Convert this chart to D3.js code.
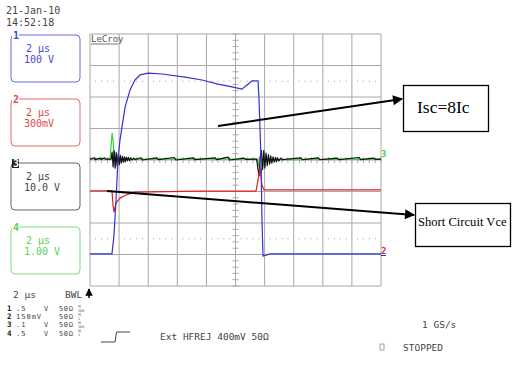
<!DOCTYPE html>
<html>
<head>
<meta charset="utf-8">
<script src="https://cdn.jsdelivr.net/npm/d3@7"></script>
<style>
  body { margin: 0; background: #fff; }
  svg { display: block; }
  .mono { font-family: "DejaVu Sans Mono", monospace; }
</style>
</head>
<body>
<div id="container"></div>
<script>
/* scope settings */
var dateText = "21-Jan-10",
    timeText = "14:52:18";
var channelIds = ["1", "2", "3", "4"],
    channelTimebase = ["2 μs", "2 μs", "2 μs", "2 μs"],
    channelScale = ["100 V", "300mV", "10.0 V", "1.00 V"];
var rowIds = ["1", "2", "3", "4"],
    rowScale = [".5", "150mV", ".1", ".5"],
    rowUnit = ["V", "", "V", "V"],
    rowImpedance = ["50Ω", "50Ω", "50Ω", "50Ω"],
    rowProbe = ["200", "1", "100", "1"];
var triggerText = "Ext HFREJ 400mV 50Ω",
    rateText = "1 GS/s",
    stateText = "STOPPED";

/* time in µs (10 div x 2 µs), value in divisions */
var timeTicks = [0, 2, 4, 6, 8, 10, 12, 14, 16, 18, 20],
    divTicks = [-4, -3, -2, -1, 0, 1, 2, 3, 4];

/* ch1 (blue) collector current */
var ch1 = [[0,-2.98],[1.51,-2.98],[1.65,-2.38],[1.79,-1.27],[1.92,0],[2.06,0.63],[2.2,1.05],
  [2.41,1.68],[2.75,2.22],[3.09,2.54],[3.44,2.7],[3.99,2.76],[4.95,2.73],[6.53,2.63],
  [7.7,2.54],[8.8,2.41],[9.76,2.32],[10.45,2.25],[10.79,2.38],[11.13,2.51],[11.55,2.51],
  [11.61,2.0],[11.75,0.06],[11.82,-1.9],[11.89,-3.05],[12.1,-3.02],[12.37,-2.98],[20,-2.98]];
/* ch2 (red) Vce */
var ch2 = [[0,-0.98],[1.51,-0.98],[1.58,-1.43],[1.65,-1.65],[1.79,-1.37],[2.06,-1.21],
  [2.47,-1.11],[3.09,-1.02],[7.5,-0.99],[11.41,-0.99],[11.55,-0.63],[11.68,-0.25],
  [11.82,-0.79],[11.96,-0.95],[20,-0.95]];
/* ch4 (green) gate */
var ch4 = [[0,0.03],[1.38,0.03],[1.45,0.47],[1.52,0.85],[1.58,0.63],[1.65,0.16],[1.79,-0.06],
  [1.92,0.03],[11.48,0.03],[11.62,-0.19],[11.75,-0.41],[11.89,-0.19],[12.03,0],[20,0.03]];
/* ch3 (black) with ringing at both edges */
var ch3 = [[0,0.03],[0.3,0.07],[0.35,0.01],[0.7,0.06],[0.75,0.02],[1.0,0.07],[1.05,0.03],
  [1.45,0.03],[1.52,0.25],[1.59,-0.22],[1.66,0.3],[1.73,-0.26],[1.8,0.24],[1.87,-0.2],
  [1.94,0.19],[2.01,-0.15],[2.08,0.15],[2.15,-0.1],[2.22,0.12],[2.29,-0.07],[2.36,0.1],
  [2.43,-0.05],[2.5,0.09],[2.57,-0.03],[2.64,0.08],[2.71,-0.02],[2.8,0.07],[2.9,0],
  [3.0,0.06],[3.1,0.01],[3.5,0.07],[3.6,0.0],[4.6,0.07],[4.7,0.01],[5.8,0.08],[5.9,0.0],
  [7.1,0.07],[7.2,0.01],[8.6,0.07],[8.7,0.01],[9.5,0.09],[9.6,0.0],[10.6,0.06],[10.7,0.02],
  [11.45,0.03],[11.55,-0.3],[11.62,-0.5],[11.7,0.1],[11.78,0.3],[11.86,-0.3],[11.94,0.3],
  [12.02,-0.25],[12.1,0.22],[12.18,-0.18],[12.26,0.17],[12.34,-0.13],[12.42,0.13],
  [12.5,-0.1],[12.58,0.1],[12.66,-0.07],[12.74,0.08],[12.82,-0.05],[12.9,0.07],[12.98,-0.03],
  [13.1,0.06],[13.2,0.01],[14.5,0.07],[14.6,0.01],[15.7,0.07],[15.8,0.01],[17.0,0.06],
  [17.1,0.01],[18.5,0.08],[18.6,0.01],[19.5,0.06],[19.6,0.02],[20,0.03]];

var annIsc = "Isc=8Ic",
    annVce = "Short Circuit Vce";

/* setup */
var W = 516, H = 372;
var svg = d3.select("#container").append("svg")
  .attr("width", W).attr("height", H);

var x = d3.scaleLinear().domain([0, 20]).range([90, 381]);
var y = d3.scaleLinear().domain([-4, 4]).range([286, 34]);

svg.append("defs").append("marker")
  .attr("id", "head").attr("viewBox", "0 0 10 10")
  .attr("refX", 9).attr("refY", 5)
  .attr("markerWidth", 6).attr("markerHeight", 5)
  .attr("markerUnits", "strokeWidth")
  .attr("orient", "auto")
  .append("path").attr("d", "M0,0L10,5L0,10Z").attr("fill", "#000");

/* header */
var mono = function(sel, size, col) {
  return sel.attr("class", "mono").style("font-size", size + "px").attr("fill", col);
};
mono(svg.append("text").attr("x", 6).attr("y", 14).text(dateText), 10, "#444");
mono(svg.append("text").attr("x", 6).attr("y", 26).text(timeText), 10, "#444");

/* channel boxes on the left */
var boxCol = ["#6b6be0", "#e06a6a", "#666", "#7ddc7d"],
    txtCol = ["#4646d8", "#e04848", "#444", "#55d455"];
var boxes = svg.selectAll(".chbox").data(channelIds).enter().append("g")
  .attr("class", "chbox")
  .attr("transform", function(d, i) { return "translate(11," + (35 + i * 64) + ")"; });
boxes.append("rect").attr("width", 69).attr("height", 47).attr("rx", 4)
  .attr("fill", "none").attr("stroke", function(d, i) { return boxCol[i]; }).attr("stroke-width", 1);
boxes.append("text").attr("x", 15).attr("y", 17)
  .text(function(d, i) { return channelTimebase[i]; })
  .attr("class", "mono").style("font-size", "10px")
  .attr("fill", function(d, i) { return txtCol[i]; });
boxes.append("text").attr("x", 13).attr("y", 28)
  .text(function(d, i) { return channelScale[i]; })
  .attr("class", "mono").style("font-size", "10px")
  .attr("fill", function(d, i) { return txtCol[i]; });
boxes.append("rect").attr("x", 1).attr("y", -4).attr("width", 7).attr("height", 9)
  .attr("fill", function(d, i) { return i == 2 ? "#222" : "#fff"; });
boxes.append("text").attr("x", 2).attr("y", 4)
  .text(function(d) { return d; })
  .attr("class", "mono").style("font-size", "10px").style("font-weight", "bold")
  .attr("fill", function(d, i) { return i == 2 ? "#fff" : txtCol[i]; });

/* grid */
var g = svg.append("g");
g.selectAll(".vl").data(timeTicks).enter().append("line")
  .attr("x1", x).attr("x2", x).attr("y1", y(-4)).attr("y2", y(4))
  .attr("stroke", "#a8a8a8").attr("stroke-width", 1);
g.selectAll(".hl").data(divTicks).enter().append("line")
  .attr("y1", y).attr("y2", y).attr("x1", x(0)).attr("x2", x(20))
  .attr("stroke", "#a8a8a8").attr("stroke-width", 1);

/* minor ticks on centre cross */
var minorDiv = d3.range(-4, 4.01, 0.2), minorT = d3.range(0, 20.01, 0.4);
g.selectAll(".mt").data(minorDiv).enter().append("line")
  .attr("x1", x(10) - 3).attr("x2", x(10) + 3).attr("y1", y).attr("y2", y)
  .attr("stroke", "#a8a8a8");
g.selectAll(".mh").data(minorT).enter().append("line")
  .attr("y1", y(0) - 3).attr("y2", y(0) + 3).attr("x1", x).attr("x2", x)
  .attr("stroke", "#a8a8a8");

/* dotted level marks at +/-2.5 div */
[2.5, -2.5].forEach(function(lv) {
  timeTicks.slice(0, -1).forEach(function(t) {
    g.append("line").attr("x1", x(t) + 5).attr("x2", x(t + 2) - 4)
      .attr("y1", y(lv)).attr("y2", y(lv))
      .attr("stroke", "#9a9a9a").attr("stroke-dasharray", "1,5");
  });
});

mono(svg.append("text").attr("x", 91).attr("y", 42).text("LeCroy"), 9, "#555");
svg.append("line").attr("x1", 91).attr("x2", 118).attr("y1", 44).attr("y2", 44)
  .attr("stroke", "#777");

/* traces */
var line = d3.line().x(function(d) { return x(d[0]); }).y(function(d) { return y(d[1]); });
var traces = [[ch4, "#3ccf3c"], [ch3, "#111"], [ch2, "#e41e1e"], [ch1, "#3232d2"]];
traces.forEach(function(tr) {
  svg.append("path").datum(tr[0]).attr("d", line)
    .attr("fill", "none").attr("stroke", tr[1]).attr("stroke-width", 1.2)
    .attr("stroke-linejoin", "round");
});

/* right-edge channel markers */
mono(svg.append("text").attr("x", 381).attr("y", y(0) - 3).text("3"), 9, "#3ccf3c")
  .style("font-weight", "bold");
mono(svg.append("text").attr("x", 381).attr("y", y(-3) - 1).text("2"), 9, "#d42c4c")
  .style("font-weight", "bold");
svg.append("line").attr("x1", 381).attr("x2", 386).attr("y1", y(-3) + 1).attr("y2", y(-3) + 1)
  .attr("stroke", "#3232d2");

/* trigger arrow at the left edge */
svg.append("line").attr("x1", 89).attr("x2", 89).attr("y1", 298).attr("y2", 289)
  .attr("stroke", "#000").attr("stroke-width", 1.5).attr("marker-end", "url(#head)");

/* bottom readout */
mono(svg.append("text").attr("x", 13).attr("y", 298).text("2 μs"), 9.5, "#444");
mono(svg.append("text").attr("x", 65).attr("y", 298).text("BWL"), 9.5, "#444");
var rows = svg.selectAll(".row").data(rowIds).enter().append("g")
  .attr("transform", function(d, i) { return "translate(0," + (311 + i * 8.2) + ")"; });
rows.append("text").attr("x", 7).text(function(d) { return d; })
  .attr("class", "mono").style("font-size", "7.5px").style("font-weight", "bold").attr("fill", "#222");
rows.append("text").attr("x", 16).text(function(d, i) { return rowScale[i]; })
  .attr("class", "mono").style("font-size", "7px").style("letter-spacing", "1px").attr("fill", "#444");
rows.append("text").attr("x", 44).text(function(d, i) { return rowUnit[i]; })
  .attr("class", "mono").style("font-size", "7px").attr("fill", "#444");
rows.append("text").attr("x", 59).text(function(d, i) { return rowImpedance[i]; })
  .attr("class", "mono").style("font-size", "7px").style("letter-spacing", "0.6px").attr("fill", "#444");
/* tiny probe attenuation mark: an X drawn as a path, the ratio below */
rows.append("path").attr("d", "M78,-6L81,-3.5M81,-6L78,-3.5")
  .attr("stroke", "#666").attr("stroke-width", 0.6);
rows.append("text").attr("x", 78).attr("y", 0.5).text(function(d, i) { return rowProbe[i]; })
  .attr("class", "mono").style("font-size", "3.5px").attr("fill", "#555");

svg.append("path").attr("d", "M101,342H115L116.5,332H130")
  .attr("fill", "none").attr("stroke", "#444").attr("stroke-width", 1);
mono(svg.append("text").attr("x", 160).attr("y", 340).text(triggerText), 9.5, "#444");
mono(svg.append("text").attr("x", 422).attr("y", 328).text(rateText), 9.5, "#444");
svg.append("rect").attr("x", 380).attr("y", 344).attr("width", 4).attr("height", 6)
  .attr("fill", "none").attr("stroke", "#888").attr("stroke-width", 0.8);
mono(svg.append("text").attr("x", 403).attr("y", 351).text(stateText), 9.5, "#444");

/* annotations */
svg.append("line").attr("x1", 218).attr("y1", 126).attr("x2", 402).attr("y2", 99)
  .attr("stroke", "#000").attr("stroke-width", 2).attr("marker-end", "url(#head)");
svg.append("line").attr("x1", 107).attr("y1", 191).attr("x2", 414).attr("y2", 215)
  .attr("stroke", "#000").attr("stroke-width", 2).attr("marker-end", "url(#head)");

svg.append("rect").attr("x", 403.5).attr("y", 85.5).attr("width", 85).attr("height", 46)
  .attr("fill", "#fff").attr("stroke", "#000").attr("stroke-width", 1.3);
svg.append("text").attr("x", 417).attr("y", 113).text(annIsc)
  .style("font-family", "'Liberation Serif', serif").style("font-size", "17.5px").attr("fill", "#000");
svg.append("rect").attr("x", 415.5).attr("y", 203.5).attr("width", 95).attr("height", 43)
  .attr("fill", "#fff").attr("stroke", "#000").attr("stroke-width", 1.3);
svg.append("text").attr("x", 418).attr("y", 226).text(annVce)
  .style("font-family", "'Liberation Serif', serif").style("font-size", "12.6px").attr("fill", "#000");
</script>
</body>
</html>
